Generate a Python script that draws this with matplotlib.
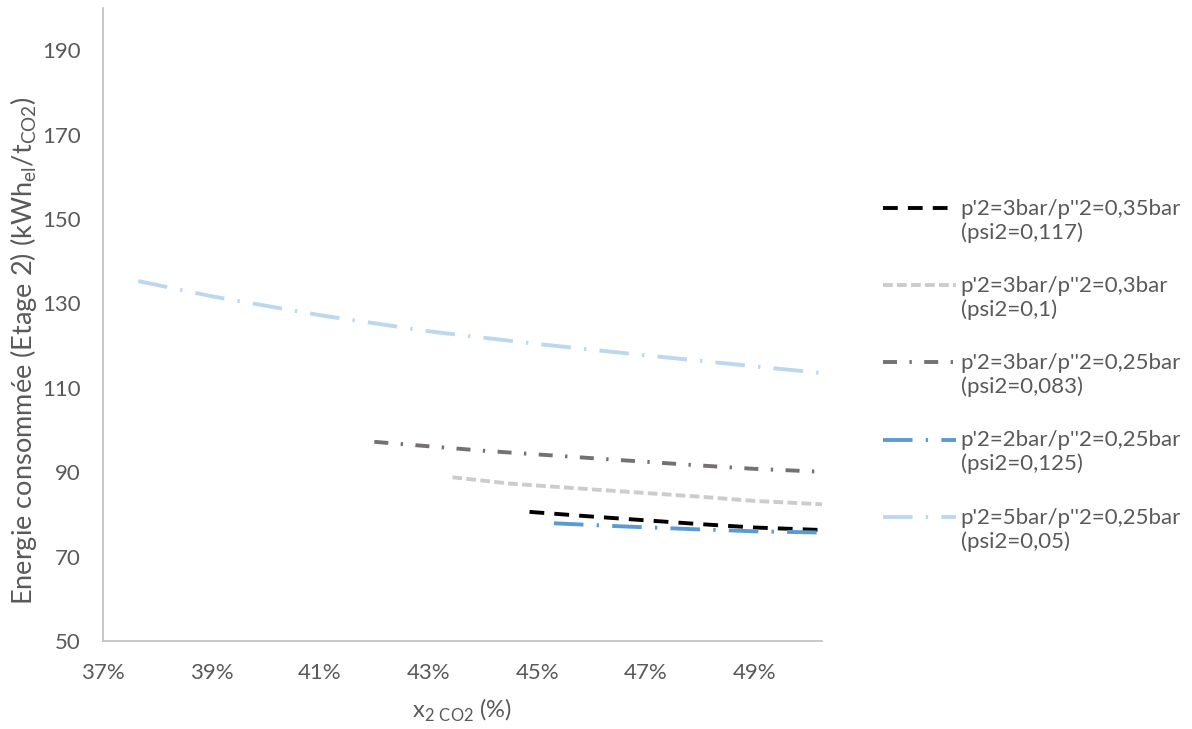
import numpy as np
import matplotlib
matplotlib.use("Agg")
import matplotlib.pyplot as plt
from matplotlib.ticker import FixedLocator
from matplotlib.legend_handler import HandlerLine2D

# data (x in fraction, y in kWh_el/t_CO2)
x_35 = [0.4486, 0.4600, 0.4700, 0.4800, 0.4900, 0.5025]
y_35 = [80.6, 79.5, 78.6, 77.7, 76.9, 76.3]

x_30 = [0.4344, 0.4450, 0.4616, 0.4800, 0.4900, 0.5025]
y_30 = [88.8, 87.3, 85.8, 84.2, 83.2, 82.4]

x_25 = [0.4200, 0.4400, 0.4616, 0.4800, 0.4900, 0.5025]
y_25 = [97.2, 95.1, 93.2, 91.6, 90.8, 90.1]

x_2b = [0.4531, 0.4650, 0.4788, 0.4900, 0.5025]
y_2b = [77.9, 77.2, 76.5, 76.0, 75.7]

x_5b = [0.3765, 0.3900, 0.4100, 0.4300, 0.4500, 0.4700, 0.4900, 0.5025]
y_5b = [135.3, 131.7, 127.2, 123.4, 120.4, 117.7, 115.1, 113.5]

labels = ["p'2=3bar/p''2=0,35bar\n(psi2=0,117)",
          "p'2=3bar/p''2=0,3bar\n(psi2=0,1)",
          "p'2=3bar/p''2=0,25bar\n(psi2=0,083)",
          "p'2=2bar/p''2=0,25bar\n(psi2=0,125)",
          "p'2=5bar/p''2=0,25bar\n(psi2=0,05)"]

xticks = [0.37, 0.39, 0.41, 0.43, 0.45, 0.47, 0.49]
yticks = [50, 70, 90, 110, 130, 150, 170, 190]


# legend line sits next to the first text line, not in the middle
class HandlerTop(HandlerLine2D):
    def create_artists(self, legend, orig_handle, xdescent, ydescent,
                       width, height, fontsize, trans):
        arts = super().create_artists(legend, orig_handle, xdescent, ydescent,
                                      width, height, fontsize, trans)
        for a in arts:
            a.set_ydata(np.asarray(a.get_ydata()) + 0.58 * fontsize)
        return arts


plt.rcParams['font.family'] = ['Lato', 'DejaVu Sans']
txt = '#595959'
fs = 16

fig = plt.figure(figsize=(11.92, 7.29), dpi=100)
ax = fig.add_axes([0.0864, 0.1207, 0.6032, 0.8683])

lw = 2.8
ax.plot(x_35, y_35, color='black', lw=lw, dashes=(3.8, 2.6), label=labels[0])
ax.plot(x_30, y_30, color='#CCCCCC', lw=lw, dashes=(2.5, 1.1), label=labels[1])
ax.plot(x_25, y_25, color='#767171', lw=lw, dashes=(3.6, 3.2, 0.6, 3.2), label=labels[2])
ax.plot(x_2b, y_2b, color='#5B9BD5', lw=lw, dashes=(7.6, 3.4, 0.6, 3.4), label=labels[3])
ax.plot(x_5b, y_5b, color='#BDD7EE', lw=lw, dashes=(7.6, 3.4, 0.6, 3.4), label=labels[4])

ax.set_xlim(0.37, 0.5025)
ax.set_ylim(50, 200)
ax.xaxis.set_major_locator(FixedLocator(xticks))
ax.set_xticklabels(["{:.0f}%".format(v * 100) for v in xticks])
ax.set_yticks(yticks)
ax.tick_params(length=0, labelsize=fs, colors=txt)
ax.tick_params(axis='x', pad=16)
ax.tick_params(axis='y', pad=16)

for s in ['top', 'right']:
    ax.spines[s].set_visible(False)
for s in ['left', 'bottom']:
    ax.spines[s].set_color('#BFBFBF')
    ax.spines[s].set_linewidth(1.2)

ax.set_ylabel(r"Energie consommée (Etage 2) (kWh$_{\mathregular{el}}$/t$_{\mathregular{CO2}}$)",
              fontsize=19.5, color=txt, labelpad=2)
ax.yaxis.label.set_y(0.458)
ax.set_xlabel(r"x$_{\mathregular{2\ CO2}}$ (%)", fontsize=17, color=txt, labelpad=10)

hmap = {h: HandlerTop() for h in ax.get_lines()}
leg = fig.legend(loc='upper left', bbox_to_anchor=(0.724, 0.755), frameon=False,
                 fontsize=fs, labelcolor=txt, handlelength=3.3, handletextpad=0.2,
                 labelspacing=1.5, handler_map=hmap)

fig.savefig('out.png', dpi=100)
